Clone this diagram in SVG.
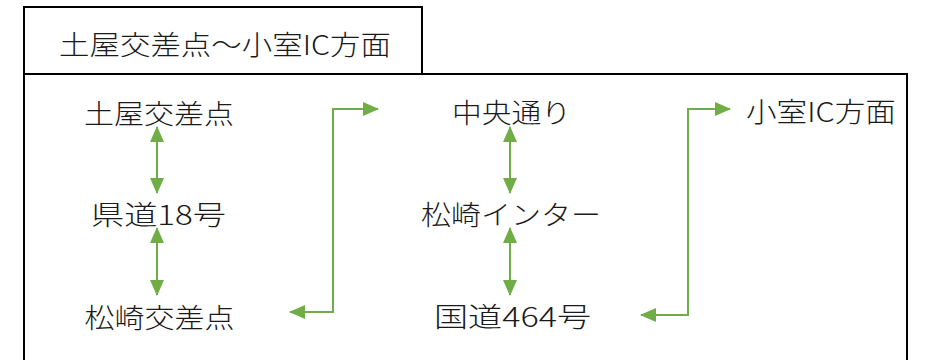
<svg xmlns="http://www.w3.org/2000/svg" width="929" height="360" viewBox="0 0 929 360">
<style>
.t{font-family:"Noto Sans CJK JP","Noto Sans",sans-serif;font-size:27px;font-weight:300;fill:#1a1a1a;text-anchor:middle;dominant-baseline:central}
.box{fill:none;stroke:#000;stroke-width:2}
.c{fill:none;stroke:#70AD47;stroke-width:2;marker-start:url(#ah);marker-end:url(#ah)}
</style>
<defs>
<marker id="ah" markerUnits="userSpaceOnUse" markerWidth="16" markerHeight="14" refX="15" refY="7" orient="auto-start-reverse" viewBox="0 0 16 14">
<path d="M0,0 L16,7 L0,14 z" fill="#70AD47"/>
</marker>
</defs>
<rect width="929" height="360" fill="#fff"/>
<g id="frame">
<path class="box" d="M24,364 V74 H907 V364"/>
</g>
<g id="title">
<rect class="box" x="24" y="7" width="398" height="67"/>
<text class="t" x="225" y="43.5" textLength="332" lengthAdjust="spacingAndGlyphs">土屋交差点〜小室IC方面</text>
</g>
<g id="node-tsuchiya"><text class="t" x="159" y="112" textLength="150" lengthAdjust="spacingAndGlyphs">土屋交差点</text></g>
<g id="node-kendo18"><text class="t" x="158.5" y="213" textLength="135" lengthAdjust="spacingAndGlyphs">県道18号</text></g>
<g id="node-matsuzaki-x"><text class="t" x="159.5" y="316" textLength="150" lengthAdjust="spacingAndGlyphs">松崎交差点</text></g>
<g id="node-chuo"><text class="t" x="511.5" y="111.5" textLength="119" lengthAdjust="spacingAndGlyphs">中央通り</text></g>
<g id="node-matsuzaki-ic"><text class="t" x="511" y="213.5" textLength="180" lengthAdjust="spacingAndGlyphs">松崎インター</text></g>
<g id="node-kokudo464"><text class="t" x="512.5" y="315" textLength="157" lengthAdjust="spacingAndGlyphs">国道464号</text></g>
<g id="node-omuro"><text class="t" x="821" y="110.5" textLength="150" lengthAdjust="spacingAndGlyphs">小室IC方面</text></g>
<g id="connectors">
<line class="c" x1="157" y1="127" x2="157" y2="193"/>
<line class="c" x1="157" y1="228" x2="157" y2="295"/>
<line class="c" x1="510" y1="127" x2="510" y2="193"/>
<line class="c" x1="510" y1="228" x2="510" y2="295"/>
<polyline class="c" points="290,312 333,312 333,109 378,109"/>
<polyline class="c" points="641,315 688,315 688,109 730,109"/>
</g>
</svg>
